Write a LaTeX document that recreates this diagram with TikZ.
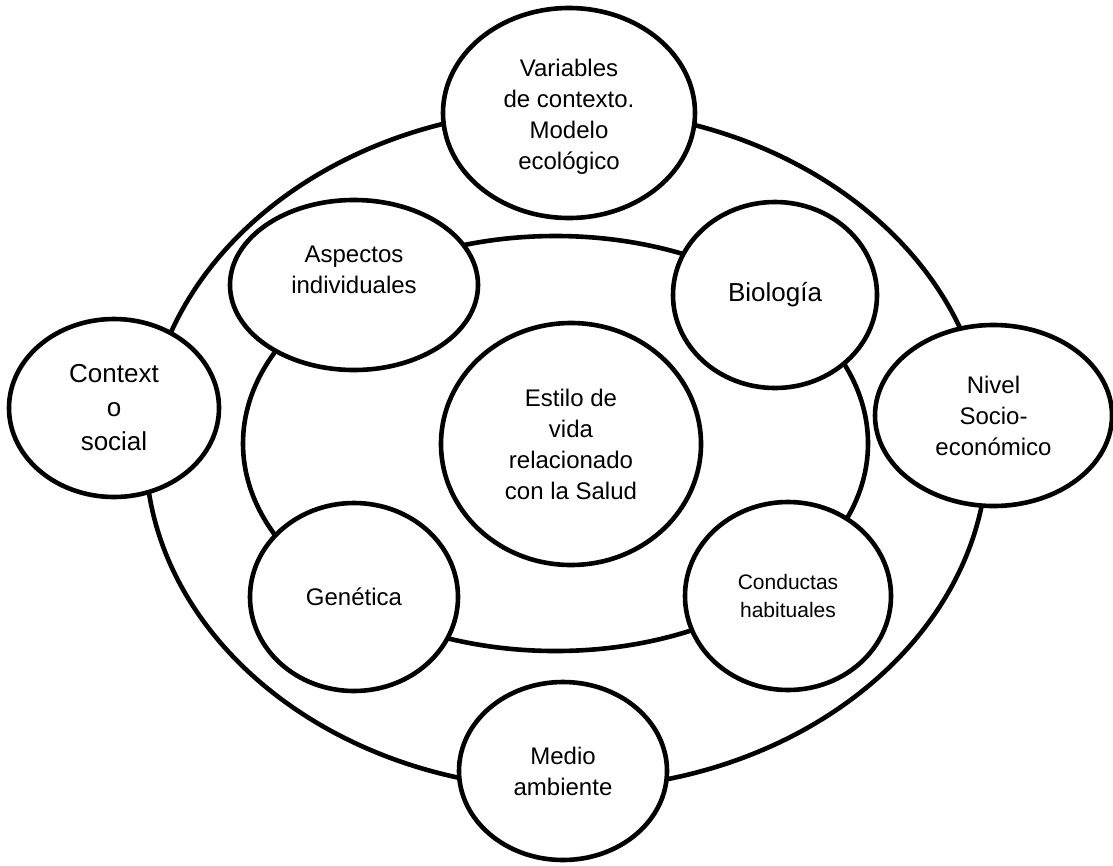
\documentclass[tikz,border=0pt]{standalone}
\usepackage{fontspec}
\setmainfont{Liberation Sans}
\usetikzlibrary{shapes.geometric}
\tikzset{
  ring/.style={ellipse, draw, line width=4.6pt, inner sep=0pt},
  bubble/.style={ellipse, draw, fill=white, line width=4.6pt, inner sep=0pt,
    align=center, font=\fontsize{24}{31}\selectfont},
  label text/.style={inner sep=0pt, align=center, font=\fontsize{24}{31}\selectfont},
}
\begin{document}
\begin{tikzpicture}[x=1pt, y=-1pt]
  \useasboundingbox (0,0) rectangle (1113,865);

  % the two rings
  \node[ring, minimum width=842pt, minimum height=680pt] (outer) at (566.5,449) {};
  \node[ring, minimum width=625pt, minimum height=415pt] (inner) at (555.5,443.5) {};

  % outer ring bubbles
  \node[bubble, minimum width=252pt, minimum height=210pt] (variables) at (569,113) {};
  \node[label text] (variables-text) at (569,117)
    {Variables\\de contexto.\\Modelo\\ecológico};
  \node[bubble, minimum width=210pt, minimum height=178pt,
        font=\fontsize{26}{34}\selectfont] (social) at (114,408)
    {Context\\o\\social};
  \node[bubble, minimum width=237pt, minimum height=181pt] (nivel) at (993.5,415.5)
    {Nivel\\Socio-\\económico};
  \node[bubble, minimum width=208pt, minimum height=178pt] (medio) at (563,771)
    {Medio\\ambiente};

  % inner ring bubbles
  \node[bubble, minimum width=248pt, minimum height=170pt] (aspectos) at (354,285) {};
  \node[label text] (aspectos-text) at (354,270) {Aspectos\\individuales};
  \node[bubble, minimum width=204pt, minimum height=186pt,
        font=\fontsize{26}{34}\selectfont] (biologia) at (775,295) {Biología};
  \node[bubble, minimum width=208pt, minimum height=188pt] (genetica) at (354,597) {Genética};
  \node[bubble, minimum width=206pt, minimum height=188pt,
        font=\fontsize{21}{28}\selectfont] (conductas) at (788,596)
    {Conductas\\habituales};

  % centre
  \node[bubble, minimum width=260pt, minimum height=242pt] (estilo) at (571,444)
    {Estilo de\\vida\\relacionado\\con la Salud};
\end{tikzpicture}
\end{document}
